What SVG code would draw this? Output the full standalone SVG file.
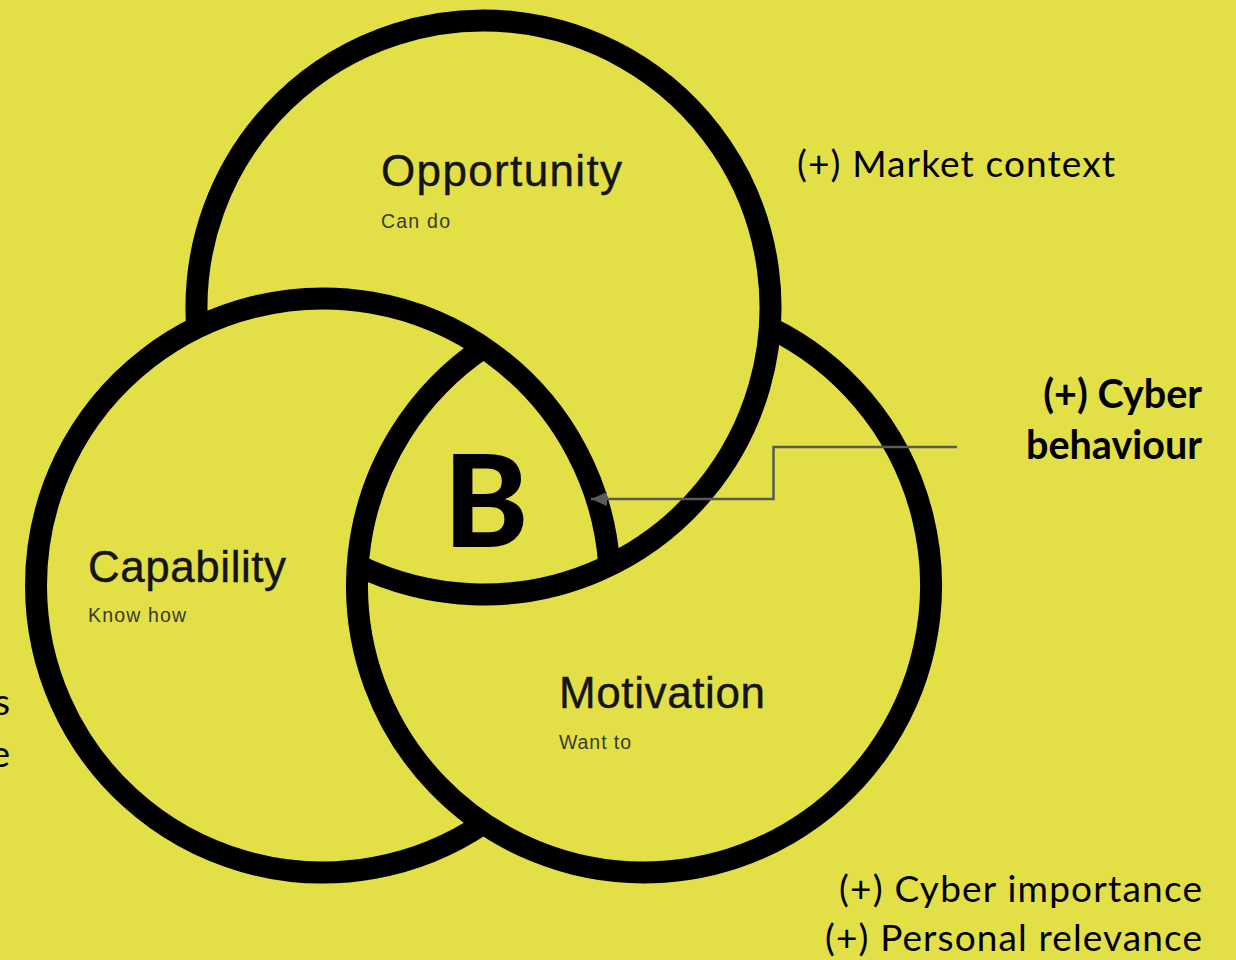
<svg xmlns="http://www.w3.org/2000/svg" width="1236" height="960" viewBox="0 0 1236 960">
  <style>
    .ring { fill: none; stroke: #000; stroke-width: 22; stroke-linecap: butt; }
    .title { font-family: "Liberation Sans", Arial, sans-serif; font-size: 44px; fill: #141414; stroke: #141414; stroke-width: 0.4; }
    .sub { font-family: "Liberation Sans", Arial, sans-serif; font-size: 19.5px; fill: #3a3a30; }
    .note { font-family: Lato, "Open Sans", sans-serif; font-size: 37px; fill: #000; }
    .noteb { font-family: Lato, "Open Sans", sans-serif; font-size: 39.5px; font-weight: 700; fill: #000; }
    .big { font-family: Lato, "Open Sans", sans-serif; font-size: 128px; font-weight: 900; fill: #000; }
    .conn { fill: none; stroke: #5a5a5a; stroke-width: 2.5; }
  </style>
  <defs>
    <marker id="arrow" markerUnits="userSpaceOnUse" markerWidth="17" markerHeight="15" refX="16" refY="7" orient="auto">
      <path d="M0,0 L16,7 L0,14 z" fill="#5a5a5a"/>
    </marker>
  </defs>

  <rect x="0" y="0" width="1236" height="960" fill="#E2E046"/>

  <g id="node-opportunity">
    <path class="ring" d="M 197.19 327.53 A 287 287 0 1 1 357.69 565.47"/>
    <text class="title" x="381" y="186" textLength="241" lengthAdjust="spacing">Opportunity</text>
    <text class="sub" x="381" y="228" textLength="69" lengthAdjust="spacing">Can do</text>
  </g>

  <g id="node-capability">
    <path class="ring" d="M 483.5 823.43 A 287 287 0 1 1 609.31 565.47"/>
    <text class="title" x="88" y="582" textLength="198" lengthAdjust="spacing">Capability</text>
    <text class="sub" x="88" y="622" textLength="98" lengthAdjust="spacing">Know how</text>
  </g>

  <g id="node-motivation">
    <path class="ring" d="M 769.81 327.53 A 287 287 0 1 1 483.5 347.57"/>
    <text class="title" x="559" y="708" textLength="206" lengthAdjust="spacing">Motivation</text>
    <text class="sub" x="559" y="749" textLength="72" lengthAdjust="spacing">Want to</text>
  </g>

  <g id="node-behaviour">
    <text class="big" x="486" y="547" text-anchor="middle">B</text>
  </g>

  <g id="annotations">
    <text class="note" x="797" y="177" textLength="318" lengthAdjust="spacing">(+) Market context</text>
    <text class="noteb" x="1202" y="408" text-anchor="end">(+) Cyber</text>
    <text class="noteb" x="1202" y="459" text-anchor="end">behaviour</text>
    <text class="note" x="1202" y="902" text-anchor="end" textLength="363" lengthAdjust="spacing">(+) Cyber importance</text>
    <text class="note" x="1202" y="951" text-anchor="end" textLength="377" lengthAdjust="spacing">(+) Personal relevance</text>
    <text class="note" x="10" y="715" text-anchor="end">s</text>
    <text class="note" x="10" y="767" text-anchor="end">e</text>
  </g>

  <g id="connectors">
    <path class="conn" d="M 957 447 L 773.5 447 L 773.5 499 L 591 499" marker-end="url(#arrow)"/>
  </g>
</svg>
